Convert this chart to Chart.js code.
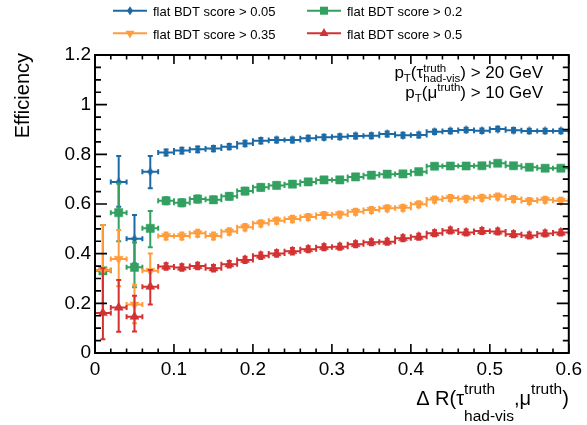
<!DOCTYPE html>
<html>
<head>
<meta charset="utf-8">
<script src="https://cdn.jsdelivr.net/npm/chart.js@4.4.1/dist/chart.umd.min.js"></script>
<style>
  html, body { margin: 0; padding: 0; background: #fff; }
  #wrap { width: 587px; height: 425px; }
</style>
</head>
<body>
<div id="wrap"><canvas id="c" width="587" height="425"></canvas></div>
<script>
// Bin centres in Delta R (bin width 0.02)
const binCenters = [0.01, 0.03, 0.05, 0.07, 0.09, 0.11, 0.13, 0.15, 0.17, 0.19,
                    0.21, 0.23, 0.25, 0.27, 0.29, 0.31, 0.33, 0.35, 0.37, 0.39,
                    0.41, 0.43, 0.45, 0.47, 0.49, 0.51, 0.53, 0.55, 0.57, 0.59];
const binHalfWidth = 0.01;

// Efficiency for each flat BDT score cut
const effScore005 = [0.333, 0.689, 0.460, 0.730, 0.807, 0.815, 0.820, 0.823, 0.831, 0.844,
                     0.855, 0.858, 0.858, 0.865, 0.869, 0.871, 0.874, 0.875, 0.882, 0.877,
                     0.878, 0.891, 0.894, 0.898, 0.895, 0.902, 0.897, 0.894, 0.894, 0.894];
const effScore02  = [0.331, 0.565, 0.345, 0.502, 0.613, 0.605, 0.620, 0.617, 0.631, 0.652,
                     0.667, 0.675, 0.680, 0.689, 0.697, 0.697, 0.709, 0.716, 0.720, 0.721,
                     0.730, 0.752, 0.753, 0.753, 0.754, 0.764, 0.754, 0.748, 0.744, 0.744];
const effScore035 = [0.333, 0.379, 0.195, 0.331, 0.471, 0.471, 0.482, 0.471, 0.489, 0.506,
                     0.522, 0.533, 0.540, 0.548, 0.556, 0.558, 0.569, 0.576, 0.583, 0.585,
                     0.599, 0.618, 0.624, 0.621, 0.625, 0.630, 0.620, 0.612, 0.617, 0.613];
const effScore05  = [0.161, 0.183, 0.146, 0.267, 0.348, 0.344, 0.350, 0.341, 0.357, 0.375,
                     0.392, 0.401, 0.410, 0.418, 0.426, 0.428, 0.438, 0.446, 0.448, 0.462,
                     0.468, 0.482, 0.493, 0.485, 0.491, 0.489, 0.478, 0.473, 0.481, 0.485];

// Asymmetric uncertainties (up / down)
const errUp005   = [0.182, 0.104, 0.096, 0.063, 0.012, 0.012, 0.012, 0.011, 0.011, 0.011,
                    0.011, 0.010, 0.010, 0.010, 0.010, 0.010, 0.010, 0.010, 0.010, 0.010,
                    0.010, 0.009, 0.009, 0.009, 0.009, 0.009, 0.009, 0.009, 0.009, 0.009];
const errDown005 = [0.170, 0.100, 0.100, 0.067, 0.012, 0.012, 0.012, 0.011, 0.011, 0.011,
                    0.011, 0.010, 0.010, 0.010, 0.010, 0.010, 0.010, 0.010, 0.010, 0.010,
                    0.010, 0.009, 0.009, 0.009, 0.009, 0.009, 0.009, 0.009, 0.009, 0.009];
const errUp02    = [0.184, 0.118, 0.100, 0.070, 0.014, 0.014, 0.014, 0.013, 0.013, 0.013,
                    0.013, 0.012, 0.012, 0.012, 0.012, 0.012, 0.012, 0.012, 0.011, 0.011,
                    0.011, 0.011, 0.011, 0.011, 0.011, 0.011, 0.011, 0.011, 0.011, 0.011];
const errDown02  = [0.170, 0.115, 0.080, 0.076, 0.014, 0.014, 0.014, 0.013, 0.013, 0.013,
                    0.013, 0.012, 0.012, 0.012, 0.012, 0.012, 0.012, 0.012, 0.011, 0.011,
                    0.011, 0.011, 0.011, 0.011, 0.011, 0.011, 0.011, 0.011, 0.011, 0.011];
const errUp035   = [0.182, 0.116, 0.080, 0.070, 0.014, 0.014, 0.014, 0.014, 0.013, 0.013,
                    0.013, 0.013, 0.013, 0.012, 0.012, 0.012, 0.012, 0.012, 0.012, 0.012,
                    0.012, 0.012, 0.012, 0.012, 0.012, 0.012, 0.012, 0.012, 0.012, 0.012];
const errDown035 = [0.170, 0.110, 0.075, 0.070, 0.014, 0.014, 0.014, 0.014, 0.013, 0.013,
                    0.013, 0.013, 0.013, 0.012, 0.012, 0.012, 0.012, 0.012, 0.012, 0.012,
                    0.012, 0.012, 0.012, 0.012, 0.012, 0.012, 0.012, 0.012, 0.012, 0.012];
const errUp05    = [0.180, 0.111, 0.085, 0.067, 0.013, 0.013, 0.013, 0.013, 0.013, 0.013,
                    0.013, 0.013, 0.013, 0.012, 0.012, 0.012, 0.012, 0.012, 0.012, 0.012,
                    0.012, 0.012, 0.012, 0.012, 0.012, 0.012, 0.012, 0.012, 0.012, 0.012];
const errDown05  = [0.106, 0.097, 0.059, 0.072, 0.013, 0.013, 0.013, 0.013, 0.013, 0.013,
                    0.013, 0.013, 0.013, 0.012, 0.012, 0.012, 0.012, 0.012, 0.012, 0.012,
                    0.012, 0.012, 0.012, 0.012, 0.012, 0.012, 0.012, 0.012, 0.012, 0.012];

const seriesLabels = ['flat BDT score > 0.05', 'flat BDT score > 0.2',
                      'flat BDT score > 0.35', 'flat BDT score > 0.5'];

const xTickValues = [0, 0.1, 0.2, 0.3, 0.4, 0.5, 0.6];
const yTickValues = [0, 0.2, 0.4, 0.6, 0.8, 1.0, 1.2];

const FONT = "'Liberation Sans', Arial, Helvetica, sans-serif";
const COLORS = ['#1b6aa5', '#33a061', '#ff9c3c', '#d33232'];

function makeDiamond(color, w, h) {
  const c = document.createElement('canvas');
  c.width = w; c.height = h;
  const g = c.getContext('2d');
  g.fillStyle = color;
  g.beginPath();
  g.moveTo(w / 2, 0); g.lineTo(w, h / 2); g.lineTo(w / 2, h); g.lineTo(0, h / 2);
  g.closePath(); g.fill();
  return c;
}
const diamond = makeDiamond(COLORS[0], 6, 9);

function points(ys, up, down) {
  return binCenters.map((x, i) => ({ x: x, y: ys[i], up: up[i], down: down[i] }));
}

const markerDefs = [
  { pointStyle: diamond, pointRadius: 4, pointRotation: 0 },
  { pointStyle: 'rect', pointRadius: 5.8, pointRotation: 0 },
  { pointStyle: 'triangle', pointRadius: 5.2, pointRotation: 180 },
  { pointStyle: 'triangle', pointRadius: 5.2, pointRotation: 0 }
];

const seriesValues = [
  points(effScore005, errUp005, errDown005),
  points(effScore02, errUp02, errDown02),
  points(effScore035, errUp035, errDown035),
  points(effScore05, errUp05, errDown05)
];

const datasets = seriesValues.map((data, i) => Object.assign({
  label: seriesLabels[i],
  data: data,
  showLine: false,
  backgroundColor: COLORS[i],
  borderColor: COLORS[i],
  pointBackgroundColor: COLORS[i],
  pointBorderColor: COLORS[i],
  pointBorderWidth: 0.5,
  pointHoverRadius: 0,
  order: 4 - i
}, markerDefs[i]));

// Horizontal bin bars and vertical uncertainty bars, drawn under each dataset's markers
const errorBarPlugin = {
  id: 'errorBars',
  beforeDatasetDraw(chart, args) {
    const ds = chart.data.datasets[args.index];
    const xs = chart.scales.x, ys = chart.scales.y;
    const ctx = chart.ctx;
    const cap = 2.5;
    ctx.save();
    ctx.strokeStyle = ds.borderColor;
    ctx.lineWidth = 2;
    ctx.lineCap = 'butt';
    ctx.beginPath();
    ds.data.forEach(p => {
      const xl = xs.getPixelForValue(p.x - binHalfWidth);
      const xr = xs.getPixelForValue(p.x + binHalfWidth);
      const xc = xs.getPixelForValue(p.x);
      const yc = ys.getPixelForValue(p.y);
      const yt = ys.getPixelForValue(p.y + p.up);
      const yb = ys.getPixelForValue(p.y - p.down);
      ctx.moveTo(xl, yc); ctx.lineTo(xr, yc);
      ctx.moveTo(xl, yc - cap); ctx.lineTo(xl, yc + cap);
      ctx.moveTo(xr, yc - cap); ctx.lineTo(xr, yc + cap);
      ctx.moveTo(xc, yt); ctx.lineTo(xc, yb);
      ctx.moveTo(xc - cap, yt); ctx.lineTo(xc + cap, yt);
      ctx.moveTo(xc - cap, yb); ctx.lineTo(xc + cap, yb);
    });
    ctx.stroke();
    ctx.restore();
  }
};

// Closed frame with inward ticks on all four sides
const framePlugin = {
  id: 'frame',
  afterDatasetsDraw(chart) {
    const { ctx, chartArea: a, scales: { x, y } } = chart;
    ctx.save();
    ctx.strokeStyle = '#000';
    ctx.lineWidth = 1.6;
    ctx.beginPath();
    for (let i = 0; i <= 30; i++) {
      const v = i * 0.02;
      const px = x.getPixelForValue(v);
      const len = (i % 5 === 0) ? 9 : 4.5;
      ctx.moveTo(px, a.bottom); ctx.lineTo(px, a.bottom - len);
      ctx.moveTo(px, a.top); ctx.lineTo(px, a.top + len);
    }
    for (let i = 0; i <= 24; i++) {
      const v = i * 0.05;
      const py = y.getPixelForValue(v);
      const len = (i % 4 === 0) ? 12 : 6;
      ctx.moveTo(a.left, py); ctx.lineTo(a.left + len, py);
      ctx.moveTo(a.right, py); ctx.lineTo(a.right - len, py);
    }
    ctx.stroke();
    ctx.lineWidth = 2;
    ctx.strokeRect(a.left, a.top, a.right - a.left, a.bottom - a.top);
    ctx.restore();
  }
};

// Text with sub/superscripts: parts are strings or {sup, sub}
function richWidth(ctx, parts, size, small) {
  let w = 0;
  parts.forEach(p => {
    if (typeof p === 'string') { ctx.font = size + 'px ' + FONT; w += ctx.measureText(p).width; }
    else {
      ctx.font = small + 'px ' + FONT;
      w += Math.max(p.sup ? ctx.measureText(p.sup).width : 0, p.sub ? ctx.measureText(p.sub).width : 0);
    }
  });
  return w;
}
function drawRich(ctx, parts, xRight, base, size, small, supDy, subDy) {
  let x = xRight - richWidth(ctx, parts, size, small);
  ctx.textAlign = 'left';
  ctx.textBaseline = 'alphabetic';
  parts.forEach(p => {
    if (typeof p === 'string') {
      ctx.font = size + 'px ' + FONT;
      ctx.fillText(p, x, base);
      x += ctx.measureText(p).width;
    } else {
      ctx.font = small + 'px ' + FONT;
      let w = 0;
      if (p.sup) { ctx.fillText(p.sup, x, base + supDy); w = Math.max(w, ctx.measureText(p.sup).width); }
      if (p.sub) { ctx.fillText(p.sub, x, base + subDy); w = Math.max(w, ctx.measureText(p.sub).width); }
      x += w;
    }
  });
}

function drawLegendMarker(ctx, i, x, y) {
  ctx.fillStyle = COLORS[i];
  ctx.beginPath();
  if (i === 0) {
    ctx.moveTo(x, y - 4.5); ctx.lineTo(x + 3, y); ctx.lineTo(x, y + 4.5); ctx.lineTo(x - 3, y);
  } else if (i === 1) {
    ctx.rect(x - 4, y - 4, 8, 8);
  } else if (i === 2) {
    ctx.moveTo(x - 4.5, y - 2.6); ctx.lineTo(x + 4.5, y - 2.6); ctx.lineTo(x, y + 5.2);
  } else {
    ctx.moveTo(x - 4.5, y + 2.6); ctx.lineTo(x + 4.5, y + 2.6); ctx.lineTo(x, y - 5.2);
  }
  ctx.closePath();
  ctx.fill();
}

const textPlugin = {
  id: 'texts',
  afterDraw(chart) {
    const ctx = chart.ctx;
    const a = chart.chartArea;
    ctx.save();
    ctx.fillStyle = '#000';

    // legend, two columns
    const cols = [113, 307];
    const rows = [10.7, 33.3];
    chart.data.datasets.forEach((ds, i) => {
      const cx = cols[i % 2], cy = rows[Math.floor(i / 2)];
      ctx.strokeStyle = COLORS[i];
      ctx.lineWidth = 2;
      ctx.beginPath(); ctx.moveTo(cx, cy); ctx.lineTo(cx + 34, cy); ctx.stroke();
      drawLegendMarker(ctx, i, cx + 17, cy);
      ctx.fillStyle = '#000';
      ctx.font = '13px ' + FONT;
      ctx.textAlign = 'left';
      ctx.textBaseline = 'alphabetic';
      ctx.fillText(ds.label, cx + 40, cy + 5.3);
    });

    // y-axis title
    ctx.save();
    ctx.translate(29, a.top - 2);
    ctx.rotate(-Math.PI / 2);
    ctx.font = '20px ' + FONT;
    ctx.textAlign = 'right';
    ctx.textBaseline = 'alphabetic';
    ctx.fillText('Efficiency', 0, 0);
    ctx.restore();

    // x-axis title
    drawRich(ctx, ['\u0394 R(\u03c4', { sup: 'truth', sub: 'had-vis' }, ',\u03bc', { sup: 'truth' }, ')'],
             a.right, 405, 20, 15.5, -11, 16);

    // selection labels
    drawRich(ctx, ['p', { sub: 'T' }, '(\u03c4', { sup: 'truth', sub: 'had-vis' }, ') > 20 GeV'],
             543, 78.3, 17, 11.5, -6.5, 4);
    drawRich(ctx, ['p', { sub: 'T' }, '(\u03bc', { sup: 'truth' }, ') > 10 GeV'],
             543, 97.5, 17, 11.5, -7, 4);
    ctx.restore();
  }
};

const fmt = v => String(+(+v).toFixed(2));

new Chart(document.getElementById('c'), {
  type: 'scatter',
  data: { datasets: datasets },
  plugins: [errorBarPlugin, framePlugin, textPlugin],
  options: {
    responsive: false,
    animation: false,
    events: [],
    layout: { padding: { top: 55, right: 14, left: 0, bottom: 0 } },
    plugins: { legend: { display: false }, tooltip: { enabled: false }, title: { display: false } },
    scales: {
      x: {
        type: 'linear', min: 0, max: 0.6,
        grid: { display: false, drawTicks: false }, border: { display: false },
        ticks: { color: '#000', font: { size: 19, family: FONT }, padding: 5,
                 maxRotation: 0, autoSkip: false, callback: fmt },
        afterBuildTicks: s => { s.ticks = xTickValues.map(v => ({ value: v })); },
        afterFit: s => { s.height = 72; }
      },
      y: {
        type: 'linear', min: 0, max: 1.2,
        grid: { display: false, drawTicks: false }, border: { display: false },
        ticks: { color: '#000', font: { size: 19, family: FONT }, padding: 4,
                 autoSkip: false, callback: fmt },
        afterBuildTicks: s => { s.ticks = yTickValues.map(v => ({ value: v })); },
        afterFit: s => { s.width = 95; }
      }
    }
  }
});
</script>
</body>
</html>
